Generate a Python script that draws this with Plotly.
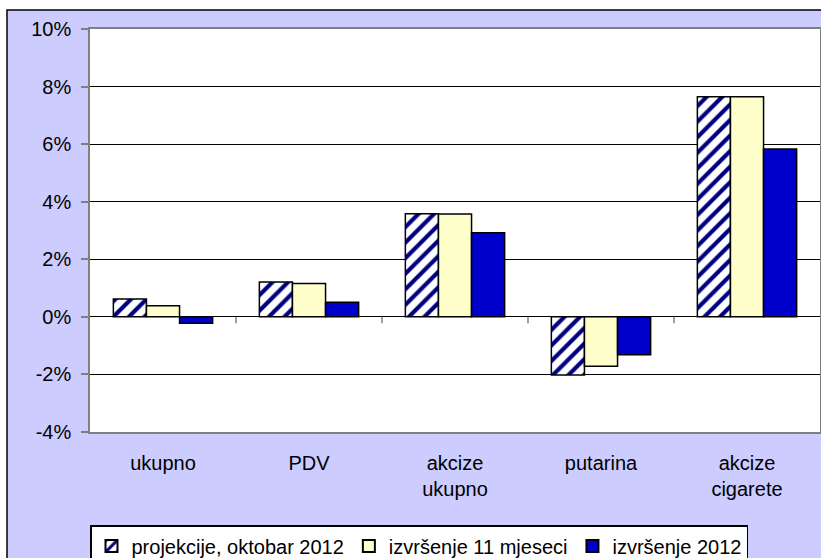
import plotly.graph_objects as go

categories = ["ukupno", "PDV", "akcize<br>ukupno", "putarina", "akcize<br>cigarete"]
series_names = ["projekcije, oktobar 2012", "izvršenje 11 mjeseci", "izvršenje 2012"]
projekcije = [0.62, 1.21, 3.58, -2.02, 7.65]
izvrsenje_11 = [0.39, 1.16, 3.57, -1.72, 7.65]
izvrsenje_2012 = [-0.22, 0.51, 2.92, -1.32, 5.83]
y_tick_vals = [-4, -2, 0, 2, 4, 6, 8, 10]
y_tick_text = ["-4%", "-2%", "0%", "2%", "4%", "6%", "8%", "10%"]

FONT = "Liberation Sans, Arial, sans-serif"
fig = go.Figure()
fig.add_trace(go.Bar(
    name=series_names[0], x=categories, y=projekcije,
    marker=dict(color="white", line=dict(color="black", width=1.5),
                pattern=dict(shape="/", fgcolor="#000080", bgcolor="white",
                             size=11, solidity=0.38, fillmode="replace")),
))
fig.add_trace(go.Bar(
    name=series_names[1], x=categories, y=izvrsenje_11,
    marker=dict(color="#FFFFCC", line=dict(color="black", width=1.5)),
))
fig.add_trace(go.Bar(
    name=series_names[2], x=categories, y=izvrsenje_2012,
    marker=dict(color="#0000CC", line=dict(color="black", width=1.5)),
))

shapes = []
# white margin strips (top-left outside the chart frame)
shapes.append(dict(type="rect", xref="paper", yref="paper", x0=-0.3, x1=-0.1137, y0=-1, y1=2,
                   fillcolor="white", line=dict(width=0), layer="below"))
shapes.append(dict(type="rect", xref="paper", yref="paper", x0=-0.3, x1=1.3, y0=1.0471, y1=2,
                   fillcolor="white", line=dict(width=0), layer="below"))
# outer chart frame
shapes.append(dict(type="rect", xref="paper", yref="paper", x0=-0.1137, x1=1.2, y0=-0.6, y1=1.0471,
                   fillcolor="rgba(0,0,0,0)", line=dict(color="black", width=1.5), layer="above"))
# category boundary ticks on the zero line
for i in range(len(categories) - 1):
    shapes.append(dict(type="line", xref="x", yref="y", x0=i + 0.5, x1=i + 0.5, y0=0, y1=-0.22,
                       line=dict(color="#808080", width=1.5)))

fig.update_layout(
    width=821, height=558,
    margin=dict(l=90, r=1, t=29, b=126, autoexpand=False),
    paper_bgcolor="#CCCCFF", plot_bgcolor="white",
    font=dict(family=FONT, size=20, color="black"),
    barmode="group", bargap=0.32, bargroupgap=0,
    showlegend=True,
    legend=dict(orientation="h", x=0, xanchor="left", y=-0.231, yanchor="top",
                bgcolor="white", bordercolor="black", borderwidth=1.5,
                font=dict(family=FONT, size=20), traceorder="normal",
                itemsizing="constant"),
    shapes=shapes,
)
fig.update_xaxes(showline=True, linecolor="#808080", linewidth=1.5, mirror=True,
                 showgrid=False, ticks="", ticklabelstandoff=12)
fig.update_yaxes(range=[-4, 10], tickvals=y_tick_vals, ticktext=y_tick_text,
                 showline=True, linecolor="#808080", linewidth=1.5, mirror=True,
                 showgrid=True, gridcolor="black", gridwidth=1,
                 zeroline=True, zerolinecolor="black", zerolinewidth=1,
                 ticks="outside", ticklen=7, tickcolor="#808080", tickwidth=1.5,
                 ticklabelstandoff=6)

fig.write_html("out.html", config={"displayModeBar": False},
               post_script="document.body.style.margin='0';document.body.style.overflow='hidden';")
